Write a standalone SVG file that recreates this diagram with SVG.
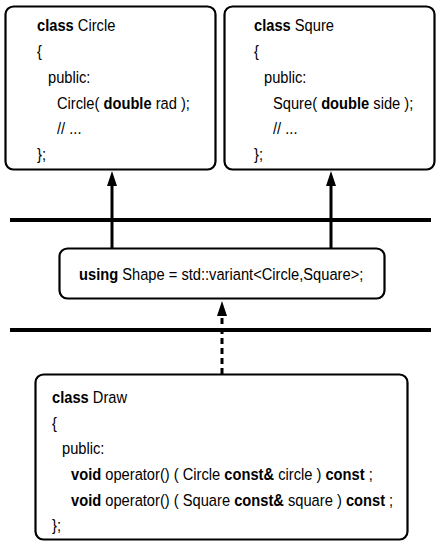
<svg xmlns="http://www.w3.org/2000/svg" width="442" height="549" viewBox="0 0 442 549">
<style>
.box{fill:#fff;stroke:#000;stroke-width:2.2}
.t{font-family:"Liberation Sans",Arial,sans-serif;font-size:16.5px;fill:#000}
.b{font-weight:bold}
.layer{stroke:#000;stroke-width:4}
.conn{stroke:#000;stroke-width:3;fill:none}
</style>
<rect width="442" height="549" fill="#fff"/>
<g id="layers">
<line class="layer" x1="10" y1="220" x2="431" y2="220"/>
<line class="layer" x1="10" y1="330" x2="431" y2="330"/>
</g>
<g id="connectors">
<path class="conn" d="M112,248 V186" />
<path d="M107,186 L112,171 L117,186 Z" fill="#000"/>
<path class="conn" d="M331,248 V186" />
<path d="M326,186 L331,171 L336,186 Z" fill="#000"/>
<path class="conn" d="M222,374 V316" stroke-dasharray="6,4"/>
<path d="M217,316 L222,301 L227,316 Z" fill="#000"/>
</g>
<g id="circle">
<rect class="box" x="5.5" y="6.5" width="210" height="163" rx="8"/>
<text class="t" transform="translate(37,31) scale(0.89,1)"><tspan class="b">class</tspan> Circle</text>
<text class="t" transform="translate(37,57) scale(0.89,1)">{</text>
<text class="t" transform="translate(48,83) scale(0.89,1)">public:</text>
<text class="t" transform="translate(57,109) scale(0.89,1)">Circle( <tspan class="b">double</tspan> rad );</text>
<text class="t" transform="translate(57,134) scale(0.89,1)">// ...</text>
<text class="t" transform="translate(37,160) scale(0.89,1)">};</text>
</g>
<g id="squre">
<rect class="box" x="224.5" y="6.5" width="210" height="163" rx="8"/>
<text class="t" transform="translate(254,31) scale(0.89,1)"><tspan class="b">class</tspan> Squre</text>
<text class="t" transform="translate(254,57) scale(0.89,1)">{</text>
<text class="t" transform="translate(264,83) scale(0.89,1)">public:</text>
<text class="t" transform="translate(273,109) scale(0.89,1)">Squre( <tspan class="b">double</tspan> side );</text>
<text class="t" transform="translate(273,134) scale(0.89,1)">// ...</text>
<text class="t" transform="translate(254,160) scale(0.89,1)">};</text>
</g>
<g id="shape">
<rect class="box" x="59.5" y="248.5" width="325" height="50" rx="8"/>
<text class="t" transform="translate(79,280) scale(0.89,1)"><tspan class="b">using</tspan> Shape = std::variant&lt;Circle,Square&gt;;</text>
</g>
<g id="draw">
<rect class="box" x="35.5" y="374.5" width="372" height="165" rx="8"/>
<text class="t" transform="translate(52,403) scale(0.89,1)"><tspan class="b">class</tspan> Draw</text>
<text class="t" transform="translate(52,429) scale(0.89,1)">{</text>
<text class="t" transform="translate(62,454) scale(0.89,1)">public:</text>
<text class="t" transform="translate(71,480) scale(0.89,1)"><tspan class="b">void</tspan> operator() ( Circle <tspan class="b">const&amp;</tspan> circle ) <tspan class="b">const</tspan> ;</text>
<text class="t" transform="translate(71,506) scale(0.89,1)"><tspan class="b">void</tspan> operator() ( Square <tspan class="b">const&amp;</tspan> square ) <tspan class="b">const</tspan> ;</text>
<text class="t" transform="translate(52,531) scale(0.89,1)">};</text>
</g>
</svg>
